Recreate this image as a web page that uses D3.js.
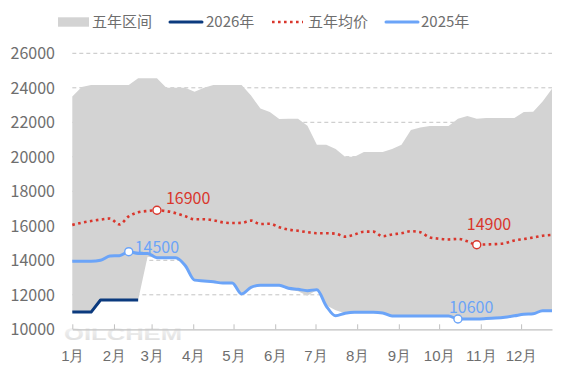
<!DOCTYPE html>
<html><head><meta charset="utf-8">
<script src="https://cdn.jsdelivr.net/npm/d3@7/dist/d3.min.js"></script>
<style>
html,body{margin:0;padding:0;background:#fff;}
svg{display:block;font-family:"Microsoft YaHei","Noto Sans CJK SC","Noto Sans",sans-serif;}
</style></head>
<body><svg id="chart" width="567" height="378"></svg>
<script>
const monthLabels = ["1月","2月","3月","4月","5月","6月","7月","8月","9月","10月","11月","12月"];
const yTickValues = [10000,12000,14000,16000,18000,20000,22000,24000,26000];
const legendNames = ["五年区间","2026年","五年均价","2025年"];
const weekIndex = d3.range(52);
const bandHigh = [23500,24050,24160,24160,24160,24160,24160,24550,24550,24550,24000,24000,24000,23770,24000,24160,24160,24160,24160,23550,22800,22600,22190,22200,22200,21800,20700,20700,20450,20000,20000,20280,20280,20280,20450,20700,21550,21700,21790,21790,21790,22200,22370,22200,22250,22250,22250,22250,22600,22610,23200,23950];
const bandLow = [11000,11000,11000,11700,11700,11700,11700,11700,14200,14150,14150,14150,13700,12850,12800,12750,12680,12680,12050,12430,12550,12560,12550,12300,12200,11950,12280,11400,11100,10930,10990,10990,10990,10950,10770,10770,10770,10770,10770,10770,10770,10600,10600,10600,10620,10650,10700,10780,10870,10900,11080,11080];
const avg5 = [16050,16180,16280,16360,16420,16080,16550,16780,16860,16900,16850,16730,16550,16380,16380,16320,16200,16160,16170,16300,16100,16120,15920,15780,15710,15630,15570,15570,15540,15370,15490,15660,15660,15390,15500,15570,15690,15630,15330,15250,15210,15240,15100,14900,14920,14940,14990,15150,15230,15320,15420,15470];
const y2025 = [13950,13950,13950,14000,14250,14270,14500,14400,14400,14150,14150,14150,13700,12850,12800,12750,12680,12680,12050,12430,12550,12560,12550,12380,12320,12240,12300,11350,10780,10930,10990,10990,10990,10950,10770,10770,10770,10770,10770,10770,10770,10600,10600,10600,10620,10650,10700,10780,10870,10900,11080,11080];
const y2026 = [11000,11000,11000,11700,11700,11700,11700,11700];
const avgMarks = [9, 43];
const y2025Marks = [6, 41];

const C = {band:"#d3d3d3", navy:"#0b3a7e", blue:"#6ba4f8", red:"#d9362c", text:"#6e6e6e", grid:"#c4c4c4", axis:"#c0c0c0"};
const svg = d3.select("#chart");
const dateOf = i => new Date(2025, 0, 1 + 7 * i);
const x = d3.scaleTime().domain([new Date(2025,0,1), new Date(2025,11,24)]).range([72.3, 552]);
const y = d3.scaleLinear().domain([10000, 26000]).range([329.3, 53.3]);

const defs = svg.append("defs");
const g1 = defs.append("linearGradient").attr("id","wm").attr("x1",0).attr("y1",0).attr("x2",0).attr("y2",1);
g1.append("stop").attr("offset","0%").attr("stop-color","#f4f4f4");
g1.append("stop").attr("offset","100%").attr("stop-color","#cfcfcf");

// grid
svg.append("g").selectAll("line").data(yTickValues.filter(v => v > 10000)).join("line")
  .attr("x1", 72.3).attr("x2", 552).attr("y1", d => y(d)).attr("y2", d => y(d))
  .attr("stroke", C.grid).attr("stroke-width", 1).attr("stroke-dasharray", "4,3");

// band
svg.append("path").datum(weekIndex)
  .attr("d", d3.area().x(i => x(dateOf(i))).y0(i => y(bandLow[i])).y1(i => y(bandHigh[i])))
  .attr("fill", C.band);

// watermark
svg.append("text").text("OILCHEM").attr("x", 64).attr("y", 340)
  .attr("font-family","Arial, 'Liberation Sans', sans-serif").attr("font-weight","bold")
  .attr("font-size", 17).attr("textLength", 118).attr("lengthAdjust","spacingAndGlyphs")
  .attr("fill","url(#wm)").attr("opacity", 0.75);

// x axis
const xAxis = d3.axisBottom(x).ticks(d3.timeMonth.every(1)).tickSize(0)
  .tickFormat(d => monthLabels[d.getMonth()]);
const gx = svg.append("g").attr("transform", "translate(0,329.3)").call(xAxis);
gx.select(".domain").attr("stroke", C.axis).attr("stroke-width", 1.2);
gx.selectAll(".tick line").remove();
gx.selectAll(".tick").append("line").attr("y1", 0).attr("y2", -5).attr("stroke", C.axis);
gx.selectAll(".tick text").attr("y", 32).attr("dy", 0).attr("fill", C.text)
  .attr("font-size", 15).attr("font-family", null);

// y axis labels
svg.append("g").selectAll("text").data(yTickValues).join("text")
  .attr("x", 55).attr("y", d => y(d)).attr("dy", "0.36em").attr("text-anchor", "end")
  .attr("fill", C.text).attr("font-size", 16).text(d => d);

// average dotted
svg.append("path").datum(weekIndex)
  .attr("d", d3.line().x(i => x(dateOf(i))).y(i => y(avg5[i])).curve(d3.curveMonotoneX))
  .attr("fill", "none").attr("stroke", C.red).attr("stroke-width", 2.6)
  .attr("stroke-dasharray", "2.6,3.4");

// 2025
svg.append("path").datum(weekIndex)
  .attr("d", d3.line().x(i => x(dateOf(i))).y(i => y(y2025[i])).curve(d3.curveMonotoneX))
  .attr("fill", "none").attr("stroke", C.blue).attr("stroke-width", 3).attr("stroke-linejoin","round");

// 2026
svg.append("path").datum(d3.range(y2026.length))
  .attr("d", d3.line().x(i => x(dateOf(i))).y(i => y(y2026[i])))
  .attr("fill", "none").attr("stroke", C.navy).attr("stroke-width", 3).attr("stroke-linejoin","round");

// markers + labels
const labelOff = {avg: [[9, -6], [-10, -14.5]], b: [[6, 1], [-9, -5.7]]};
avgMarks.forEach((i, k) => {
  const cx = x(dateOf(i)), cy = y(avg5[i]);
  svg.append("circle").attr("cx", cx).attr("cy", cy).attr("r", 4)
    .attr("fill", "#fff").attr("stroke", C.red).attr("stroke-width", 1.4);
  svg.append("text").attr("x", cx + labelOff.avg[k][0]).attr("y", cy + labelOff.avg[k][1])
    .attr("fill", C.red).attr("font-size", 16).text(avg5[i]);
});
y2025Marks.forEach((i, k) => {
  const cx = x(dateOf(i)), cy = y(y2025[i]);
  svg.append("circle").attr("cx", cx).attr("cy", cy).attr("r", 4)
    .attr("fill", "#fff").attr("stroke", C.blue).attr("stroke-width", 1.4);
  svg.append("text").attr("x", cx + labelOff.b[k][0]).attr("y", cy + labelOff.b[k][1])
    .attr("fill", C.blue).attr("font-size", 16).text(y2025[i]);
});

// legend
const lg = svg.append("g");
const ly = 22;
lg.append("rect").attr("x", 58).attr("y", 17.3).attr("width", 31).attr("height", 9.4).attr("fill", C.band);
lg.append("line").attr("x1", 170).attr("x2", 202).attr("y1", ly).attr("y2", ly).attr("stroke", C.navy).attr("stroke-width", 3).attr("stroke-linecap","round");
lg.append("line").attr("x1", 272).attr("x2", 303).attr("y1", ly).attr("y2", ly).attr("stroke", C.red).attr("stroke-width", 2.6).attr("stroke-dasharray", "2.6,3.4");
lg.append("line").attr("x1", 386).attr("x2", 418).attr("y1", ly).attr("y2", ly).attr("stroke", C.blue).attr("stroke-width", 3).attr("stroke-linecap","round");
[92, 206, 308, 421].forEach((lx, k) => {
  lg.append("text").attr("x", lx).attr("y", ly).attr("dy", "0.36em").attr("fill", C.text)
    .attr("font-size", 15).text(legendNames[k]);
});
</script></body></html>
